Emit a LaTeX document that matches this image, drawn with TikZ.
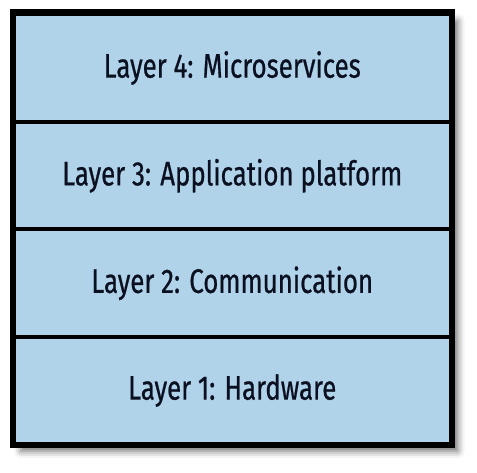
\documentclass[tikz,border=0pt]{standalone}
\usepackage{fontspec}
\setmainfont{Fira Sans}[FakeStretch=0.76, FakeBold=0.6]
\usetikzlibrary{shadows.blur}
\definecolor{layerfill}{HTML}{B0D3EA}
\definecolor{layertext}{HTML}{0B1020}
\begin{document}
\begin{tikzpicture}[x=1pt,y=1pt,
  layerbox/.style={draw=black, line width=4pt, fill=layerfill,
    minimum width=436.5pt, minimum height=107.5pt, inner sep=0pt,
    text=layertext, font=\fontsize{34}{38}\selectfont},
  stackframe/.style={draw=black, line width=4.5pt, fill=layerfill,
    blur shadow={shadow xshift=7pt, shadow yshift=-7pt,
      shadow blur radius=7pt, shadow opacity=60}}]
  \useasboundingbox (0,0) rectangle (477,473);
  % outer frame carrying the drop shadow
  \node[stackframe, minimum width=436.5pt, minimum height=430pt, inner sep=0pt]
    (frame) at (232.25,244) {};
  % the four stacked layers, top to bottom
  \node[layerbox] (l4) at (232.25,405) {Layer 4: Microservices};
  \node[layerbox] (l3) at (232.25,297.25) {Layer 3: Application platform};
  \node[layerbox] (l2) at (232.25,189.75) {Layer 2: Communication};
  \node[layerbox] (l1) at (232.25,82.5) {Layer 1: Hardware};
  % redraw the frame outline on top
  \draw[line width=4.5pt] (frame.south west) rectangle (frame.north east);
\end{tikzpicture}
\end{document}
